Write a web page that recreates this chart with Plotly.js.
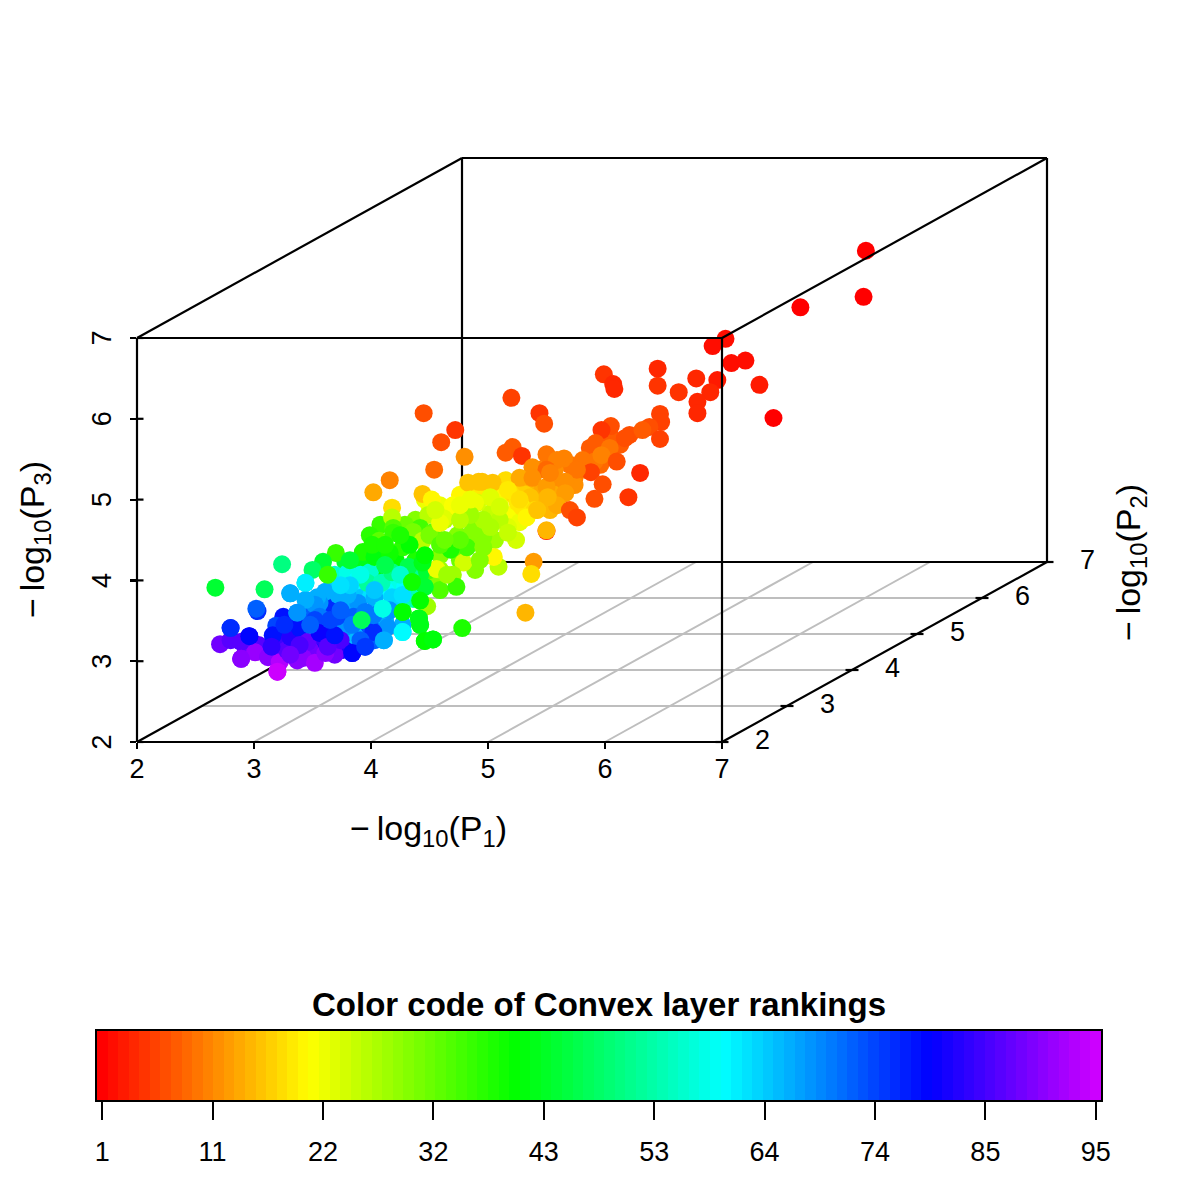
<!DOCTYPE html>
<html>
<head>
<meta charset="utf-8">
<script src="https://cdn.plot.ly/plotly-3.0.1.min.js"></script>
<style>html,body{margin:0;padding:0;background:#fff}</style>
</head>
<body>
<div id="chart" style="width:1200px;height:1200px"></div>
<script>
// Points as read on the oblique plot plane (P1 + depth shift, P3 + depth shift), with layer rank
const planeX = [
8.23,8.21,7.67,7.03,6.92,7.08,7.20,7.32,7.44,6.96,
6.90,6.78,6.63,6.79,6.79,6.45,6.45,6.47,6.48,6.38,
6.47,6.32,5.20,5.44,5.48,5.99,6.07,6.08,6.05,5.97,
6.17,5.92,5.21,5.15,5.29,5.50,5.65,5.38,5.59,5.81,
5.91,6.04,5.97,6.10,6.30,5.88,5.76,5.50,5.27,5.38,
5.98,6.20,5.91,5.66,5.50,5.66,5.59,5.70,5.76,5.50,
5.50,5.04,4.95,5.36,5.19,5.29,5.40,5.33,5.51,5.25,
5.10,5.17,5.24,5.02,5.10,4.96,4.83,4.92,5.53,5.39,
5.37,5.32,4.78,5.09,5.05,4.79,4.70,4.73,4.91,4.70,
4.63,4.74,4.87,4.96,5.02,5.17,5.17,5.10,4.93,4.82,
4.68,4.59,4.76,4.96,5.02,5.27,5.42,4.45,4.72,4.60,
4.80,4.54,4.16,4.02,4.44,4.52,4.18,4.18,4.19,4.70,
4.62,4.49,4.89,4.42,4.53,3.70,3.93,4.03,4.07,4.19,
4.36,4.44,4.27,4.16,4.50,4.59,4.56,4.65,4.35,3.63,
3.59,3.80,3.88,3.97,4.09,4.18,4.32,4.44,4.29,4.46,
4.36,4.48,4.42,4.27,4.41,4.42,4.10,3.92,4.27,4.11,
4.46,4.53,3.86,3.78,4.14,4.02,3.95,3.84,3.76,3.69,
3.71,3.63,3.58,3.89,4.03,4.18,4.27,3.72,3.61,3.80,
4.16,4.02,3.62,3.74,3.85,3.95,3.56,3.91,4.03,3.82,
4.25,3.74,4.33,4.25,4.59,4.46,4.63,4.12,4.85,4.76,
4.85,3.24,2.67,3.09,3.31,3.44,3.50,3.03,3.02,3.25,
3.37,3.54,3.52,3.56,2.80,2.96,3.19,3.16,2.71,2.80,
2.89,2.89,3.01,3.12,3.20,3.22,3.28,3.15,3.31,3.39,
3.46,3.42,3.52,3.61,3.52,3.56,3.63,3.37,3.39,3.69,
3.48,3.65,3.84,3.91,3.26,3.31,3.74,3.44,4.01,3.82,
4.12,4.55,4.76
];
const planeY = [
8.08,7.51,7.38,6.99,6.90,6.69,6.72,6.42,6.01,6.48,
6.33,6.50,6.33,6.21,6.07,6.62,6.41,6.06,5.96,5.90,
5.75,5.86,6.26,6.07,5.94,6.55,6.43,6.37,5.91,5.86,
5.76,5.70,5.65,5.58,5.54,5.56,5.51,5.40,5.49,5.49,
5.47,5.64,5.55,5.47,5.33,5.34,5.37,5.37,5.27,5.27,
5.19,5.03,5.01,5.22,5.16,5.08,4.93,4.87,4.78,4.61,
4.62,5.21,5.22,5.03,5.08,4.91,4.87,4.78,5.03,4.97,
4.93,4.66,4.50,4.83,4.75,4.54,5.21,5.22,5.33,4.23,
4.08,3.60,3.41,4.17,4.29,4.22,4.07,3.92,4.96,4.87,
4.75,4.56,4.62,4.75,5.03,5.12,4.59,4.91,4.25,4.41,
4.38,4.13,4.50,4.41,4.66,5.00,4.87,6.07,5.86,5.71,
5.53,5.37,5.24,5.09,5.07,5.00,4.90,4.78,4.65,4.93,
4.77,4.81,4.96,4.65,4.60,4.34,4.35,4.29,4.49,4.59,
4.60,4.49,4.41,4.34,4.56,4.71,4.14,4.07,3.98,4.07,
4.23,4.09,4.00,3.97,3.97,4.10,4.17,4.22,3.91,3.92,
3.77,3.68,3.75,3.61,3.53,3.45,3.65,3.51,3.36,3.26,
3.25,3.27,3.32,3.42,3.42,3.36,3.18,3.10,3.14,3.08,
3.55,3.67,3.53,3.72,3.78,3.79,3.82,3.82,3.86,3.82,
3.63,3.57,3.35,3.26,3.55,3.61,3.72,4.07,3.88,3.94,
4.07,3.94,4.44,4.56,4.44,4.31,4.50,4.19,4.81,4.75,
5.00,4.20,3.91,3.89,3.84,3.97,4.13,3.62,3.65,3.55,
3.60,3.79,3.70,3.55,3.41,3.31,3.44,3.32,3.21,3.26,
3.24,3.03,3.11,3.05,2.87,2.99,3.14,3.18,3.30,3.41,
3.24,3.04,2.98,3.10,3.51,3.35,3.18,3.01,3.20,3.32,
3.45,3.51,3.45,3.26,3.45,3.08,3.63,3.76,4.44,4.25,
4.44,4.87,4.93
];
const rank = [
1,1,1,2,2,2,2,3,1,3,
4,4,5,4,4,4,5,6,6,7,
6,8,6,5,7,5,4,4,7,5,
7,8,8,8,5,10,11,12,11,10,
10,10,11,7,4,6,10,9,14,12,
7,5,7,12,13,13,14,7,6,3,
15,16,16,16,18,19,18,20,15,19,
22,23,24,25,26,30,16,16,11,13,
18,15,38,26,20,24,28,36,24,22,
26,30,30,27,23,19,25,24,30,35,
38,28,33,30,27,18,16,7,5,7,
12,9,11,14,16,20,18,26,34,21,
23,26,22,35,33,36,38,41,33,36,
31,26,37,39,31,22,22,28,39,36,
44,58,60,52,54,50,46,42,60,44,
54,28,40,40,42,42,58,47,60,66,
40,41,65,68,68,76,75,79,82,88,
74,76,72,68,66,63,62,66,66,66,
68,70,80,85,72,70,68,58,64,63,
56,62,40,38,34,40,32,46,28,26,
22,50,44,47,66,61,48,76,72,78,
68,66,68,70,76,79,74,78,88,86,
86,90,91,90,95,93,86,83,82,78,
87,90,92,90,74,80,86,90,85,78,
72,74,70,72,76,88,72,66,38,44,
38,24,22
];
// Points hidden inside the dense cloud, seen only as filled colour (drawn beneath the others)
const hiddenX = [
5.44,5.57,5.74,5.83,5.96,6.04,5.70,5.57,5.44,5.32,5.44,5.53,5.57,5.74,5.23,5.32,5.87,6.13,6.21,6.04,
5.10,5.06,5.19,5.27,4.85,4.76,4.93,5.15,4.59,4.50,4.46,
4.38,4.29,4.85,5.06,4.59,4.76,4.89,4.55,4.08,3.99,4.38,4.21,4.12,4.03,3.91,3.78,4.50,4.59,4.42,
3.69,3.78,3.99,4.21,4.33,4.38,4.12,3.95,3.65,3.86,3.78,4.12,4.27,4.22,
3.82,3.95,3.74,3.65,3.39,3.48,3.22,3.35,3.78,3.91,4.03,3.99,3.56,3.65,
3.31,3.48,3.61,3.69,3.18,3.04,3.22,2.93
];
const hiddenY = [
5.12,5.24,5.27,5.37,5.43,5.55,5.43,5.37,5.37,5.18,4.93,4.87,5.06,5.18,5.12,5.06,5.64,5.68,5.80,5.80,
5.06,4.87,4.81,4.72,5.12,5.06,5.06,5.24,4.93,4.93,5.00,
4.75,4.69,4.50,4.50,4.31,4.25,4.13,4.00,4.69,4.56,4.25,4.25,4.31,4.07,4.23,4.23,4.13,3.88,4.07,
4.07,3.97,4.10,3.94,4.07,3.88,3.88,3.88,3.88,3.88,3.70,3.51,3.45,3.70,
3.39,3.45,3.45,3.70,3.51,3.63,3.39,3.45,3.16,3.39,3.26,3.45,3.26,3.39,
3.20,3.14,3.26,3.20,3.08,3.20,3.20,3.14
];
const hiddenRank = [
14,12,11,10,9,9,10,12,11,15,15,15,14,12,17,17,8,8,7,8,
20,22,21,22,21,20,19,18,22,21,22,
30,32,30,28,30,32,30,30,36,37,38,40,40,42,42,44,34,34,44,
56,60,56,58,52,56,60,62,64,64,66,66,66,64,
70,70,72,72,72,72,78,78,80,74,72,72,80,78,
85,88,84,86,90,86,84,88
];
// Points that lie in front of the cloud
const frontX = [3.92,4.10,4.27,4.35,3.63,4.41,4.42,4.11,4.27,4.46,4.53,3.31,3.37,3.44,3.84,3.95,3.20,2.89,2.80,2.96];
const frontY = [3.51,3.65,3.61,3.98,4.07,3.53,3.45,3.26,3.36,3.25,3.27,3.84,3.60,3.97,3.10,3.18,2.87,3.03,3.41,3.31];
const frontRank = [47,58,40,39,36,42,42,66,60,40,41,66,68,61,79,75,95,90,76,79];

const boxTicks = [2,3,4,5,6,7];
const depthTicks = [2,3,4,5,6];
const rankLabels = ['1','11','22','32','43','53','64','74','85','95'];
const rankTickPos = [1,11.44,21.89,32.33,42.78,53.22,63.67,74.11,84.56,95];
const allRanks = Array.from({length:95},(_,i)=>i+1);

// oblique projection of the scatterplot3d box
const depthX = 65/117, depthY = 36/80.8;
const px = (a,b)=>a+(b-2)*depthX;
const py = (c,b)=>c+(b-2)*depthY;
function seg(list){ // list of [P1,P2,P3] pairs
  const x=[],y=[];
  list.forEach(s=>{s.forEach(p=>{x.push(px(p[0],p[1]));y.push(py(p[2],p[1]));});x.push(null);y.push(null);});
  return {x,y};
}
const rainbow = [[0,'#ff0000'],[0.20833,'#ffff00'],[0.41667,'#00ff00'],[0.625,'#00ffff'],[0.83333,'#0000ff'],[1,'#cc00ff']];

const gridSegs = [];
[3,4,5,6].forEach(v=>{gridSegs.push([[v,2,2],[v,7,2]]);});
[3,4,5,6].forEach(v=>{gridSegs.push([[2,v,2],[7,v,2]]);});
const backSegs = [[[2,7,2],[2,7,7]],[[2,7,2],[7,7,2]],[[2,2,2],[2,7,2]]];
const frontSegs = [
 [[2,2,7],[7,2,7]],[[7,2,7],[7,2,2]],[[2,2,7],[2,2,2]],[[2,2,2],[7,2,2]],
 [[7,2,2],[7,7,2]],[[7,2,7],[7,7,7]],[[7,7,7],[7,7,2]],[[2,7,7],[7,7,7]],[[2,2,7],[2,7,7]]
];
const tickSegX=[],tickSegY=[];
depthTicks.forEach(v=>{
  tickSegX.push(px(7,v)-6.5/117,px(7,v)+6.5/117,null);
  tickSegY.push(py(2,v),py(2,v),null);
});
tickSegX.push(px(7,7),px(7,7)+6.5/117,null); tickSegY.push(py(2,7),py(2,7),null);
boxTicks.forEach(v=>{
  tickSegX.push(2,2+6.5/117,null); tickSegY.push(v,v,null);
});
const line=(s,c,w)=>({type:'scatter',mode:'lines',x:s.x,y:s.y,line:{color:c,width:w},hoverinfo:'skip',showlegend:false,xaxis:'x',yaxis:'y'});
const dots=(x,y,r)=>({type:'scatter',mode:'markers',x:x,y:y,xaxis:'x',yaxis:'y',showlegend:false,
   marker:{size:18,color:r,cmin:1,cmax:95,colorscale:rainbow,showscale:false,line:{width:0},opacity:1}});

const traces = [
  line(seg(gridSegs),'#bebebe',2),
  line(seg(backSegs),'#000',2.2),
  dots(hiddenX,hiddenY,hiddenRank),
  dots(planeX,planeY,rank),
  dots(frontX,frontY,frontRank),
  line(seg(frontSegs),'#000',2.2),
  line({x:tickSegX,y:tickSegY},'#000',2.2),
  {type:'heatmap',x:allRanks,y:[0],z:[allRanks],zmin:1,zmax:95,colorscale:rainbow,showscale:false,xaxis:'x3',yaxis:'y3',zsmooth:false,hoverinfo:'skip'},
  {type:'scatter',mode:'markers',x:[2],y:[2],xaxis:'x2',yaxis:'y2',marker:{opacity:0},showlegend:false,hoverinfo:'skip'}
];

const W=1200,H=1200;
const FONT='"Liberation Sans", Arial, sans-serif';
const tickFont={family:FONT,size:27,color:'#000'};
const labelFont={family:FONT,size:34,color:'#000'};
const layout = {
  width:W,height:H,margin:{l:0,r:0,t:0,b:0},paper_bgcolor:'#fff',plot_bgcolor:'rgba(0,0,0,0)',showlegend:false,
  xaxis:{domain:[0,1],range:[2-137/117,2+1063/117],visible:false,fixedrange:true},
  yaxis:{domain:[0,1],range:[2-458/80.8,2+742/80.8],visible:false,fixedrange:true},
  xaxis2:{domain:[137/W,722/W],range:[2,7],anchor:'y2',side:'bottom',tickmode:'array',tickvals:boxTicks,ticktext:boxTicks.map(String),
    ticks:'outside',ticklen:6,tickwidth:2.2,tickcolor:'#000',showline:false,showgrid:false,zeroline:false,tickfont:tickFont,tickangle:0,ticklabelstandoff:-3},
  yaxis2:{domain:[1-742/H,1-338/H],range:[2,7],anchor:'x2',side:'left',tickmode:'array',tickvals:boxTicks,ticktext:boxTicks.map(String),
    ticks:'outside',ticklen:6,tickwidth:2.2,tickcolor:'#000',showline:false,showgrid:false,zeroline:false,tickfont:tickFont,tickangle:-90,ticklabelstandoff:8,ticklabelshift:4},
  xaxis3:{domain:[97/W,1101/W],range:[0.5,95.5],anchor:'y3',tickmode:'array',tickvals:rankTickPos,ticktext:rankLabels,
    ticks:'outside',ticklen:18,tickwidth:2.2,tickcolor:'#000',showline:true,linecolor:'#000',linewidth:2,mirror:true,showgrid:false,zeroline:false,tickfont:tickFont,tickangle:0,ticklabelstandoff:9},
  yaxis3:{domain:[1-1100/H,1-1031/H],range:[-0.5,0.5],anchor:'x3',visible:true,showticklabels:false,ticks:'',showline:true,linecolor:'#000',linewidth:2,mirror:true,showgrid:false,zeroline:false},
  annotations:[
    ...depthTicks.concat([7]).map(v=>({xref:'x',yref:'y',x:px(7,v)+40/117,y:py(2,v)+2/80.8,text:String(v),showarrow:false,font:tickFont,xanchor:'center',yanchor:'middle'})),
    {xref:'paper',yref:'paper',x:428/W,y:1-830/H,text:'\u2212\u2009log<sub>10</sub>(P<sub>1</sub>)',showarrow:false,font:labelFont,xanchor:'center',yanchor:'middle'},
    {xref:'paper',yref:'paper',x:34/W,y:1-540/H,text:'\u2212\u2009log<sub>10</sub>(P<sub>3</sub>)',textangle:-90,showarrow:false,font:labelFont,xanchor:'center',yanchor:'middle'},
    {xref:'paper',yref:'paper',x:1130/W,y:1-563/H,text:'\u2212\u2009log<sub>10</sub>(P<sub>2</sub>)',textangle:-90,showarrow:false,font:labelFont,xanchor:'center',yanchor:'middle'},
    {xref:'paper',yref:'paper',x:599/W,y:1-1004/H,text:'<b>Color code of Convex layer rankings</b>',showarrow:false,font:{family:FONT,size:33,color:'#000'},xanchor:'center',yanchor:'middle'}
  ]
};
Plotly.newPlot('chart',traces,layout,{staticPlot:true,displayModeBar:false});
</script>
</body>
</html>
